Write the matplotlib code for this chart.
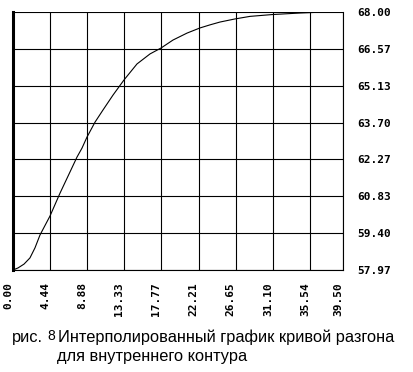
import matplotlib
matplotlib.use('Agg')
import matplotlib.pyplot as plt

# curve
t = [0.00, 0.60, 1.32, 2.03, 2.63, 3.23, 4.43, 5.63, 6.82, 7.66, 8.26, 8.86, 9.82,
     10.77, 11.97, 13.29, 14.84, 16.40, 17.72, 19.15, 20.83, 22.38, 23.58, 24.78,
     26.57, 28.37, 31.00, 34.35, 37.35, 39.50]
temp = [57.97, 58.05, 58.20, 58.44, 58.83, 59.33, 60.07, 60.96, 61.78, 62.36, 62.71,
        63.14, 63.72, 64.19, 64.77, 65.36, 65.98, 66.37, 66.60, 66.91, 67.18, 67.38,
        67.50, 67.61, 67.73, 67.83, 67.90, 67.96, 68.00, 68.00]

xticks = [0.00, 4.44, 8.88, 13.33, 17.77, 22.21, 26.65, 31.10, 35.54, 39.50]
xlabels = ['0.00', '4.44', '8.88', '13.33', '17.77', '22.21', '26.65', '31.10', '35.54', '39.50']
yticks = [57.97, 59.40, 60.83, 62.27, 63.70, 65.13, 66.57, 68.00]
ylabels = ['57.97', '59.40', '60.83', '62.27', '63.70', '65.13', '66.57', '68.00']

W, H = 413, 372
fig = plt.figure(figsize=(W / 100, H / 100), dpi=100)
fig.patch.set_facecolor('white')
ax = fig.add_axes([13 / W, (H - 270) / H, (343 - 13) / W, (270 - 12) / H])

ax.plot(t, temp, color='black', lw=0.8, zorder=5)
ax.set_xlim(0, 39.5)
ax.set_ylim(57.97, 68.00)

ax.set_xticks(xticks, labels=xlabels)
ax.set_yticks(yticks, labels=ylabels)
ax.grid(True, color='black', lw=0.8)
ax.yaxis.tick_right()
ax.tick_params(axis='x', length=0, pad=8.5)
ax.tick_params(axis='y', length=0, pad=10)

tick_font = dict(family='DejaVu Sans Mono', weight='bold', size=8)
for lbl in ax.get_xticklabels():
    lbl.set_rotation(90)
    lbl.set_ha('right')
    lbl.set_fontproperties(tick_font)
for lbl in ax.get_yticklabels():
    lbl.set_fontproperties(tick_font)

ax.spines['top'].set_visible(False)
ax.spines['left'].set_linewidth(2.2)
ax.spines['right'].set_linewidth(0.8)
ax.spines['bottom'].set_linewidth(0.8)

cap = dict(family='Liberation Sans', color='black')
fig.text(12 / W, 1 - 342 / H, 'рис.', fontsize=11.8, va='baseline', **cap)
fig.text(47 / W, 1 - 340 / H, '8', fontsize=10, va='baseline', **cap)
fig.text(58 / W, 1 - 342 / H, 'Интерполированный график кривой разгона',
         fontsize=11.8, va='baseline', **cap)
fig.text(57 / W, 1 - 361 / H, 'для внутреннего контура', fontsize=11.8,
         va='baseline', **cap)

fig.savefig('out.png', dpi=100)
